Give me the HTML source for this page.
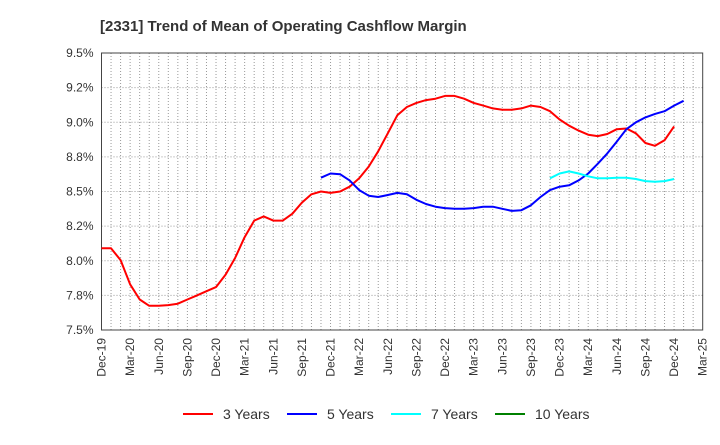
<!DOCTYPE html>
<html><head><meta charset="utf-8"><style>
body{margin:0;background:#fff;}
svg text{font-family:"Liberation Sans",sans-serif;}
</style></head><body>
<svg id="chart" width="720" height="440" xmlns="http://www.w3.org/2000/svg">
<text x="100" y="31" font-size="15" font-weight="bold" fill="#333">[2331]  Trend of Mean of Operating Cashflow Margin</text>
<g id="grid"></g><g id="axes"></g><g id="series"></g><g id="legend"></g>
</svg>
<script>
const xTickLabels=["Dec-19","Mar-20","Jun-20","Sep-20","Dec-20","Mar-21","Jun-21","Sep-21","Dec-21","Mar-22","Jun-22","Sep-22","Dec-22","Mar-23","Jun-23","Sep-23","Dec-23","Mar-24","Jun-24","Sep-24","Dec-24","Mar-25"];
const yTicks=[7.5,7.75,8.0,8.25,8.5,8.75,9.0,9.25,9.5];
const yTickLabels=["7.5%","7.8%","8.0%","8.2%","8.5%","8.8%","9.0%","9.2%","9.5%"];
const seriesNames=["3 Years","5 Years","7 Years","10 Years"];
const seriesColors=["#ff0000","#0000ff","#00ffff","#008000"];
// monthly values; start index = months after Dec-19
const red3Start=0;
const red3=[8.09,8.09,8.005,7.83,7.72,7.675,7.675,7.68,7.69,7.72,7.75,7.78,7.81,7.90,8.02,8.17,8.29,8.32,8.29,8.29,8.34,8.42,8.48,8.50,8.49,8.50,8.535,8.595,8.68,8.79,8.92,9.05,9.11,9.14,9.16,9.17,9.19,9.19,9.17,9.14,9.12,9.10,9.09,9.09,9.10,9.12,9.11,9.08,9.02,8.975,8.94,8.91,8.90,8.915,8.95,8.955,8.92,8.85,8.83,8.87,8.97];
const blue5Start=23;
const blue5=[8.60,8.63,8.625,8.58,8.51,8.47,8.46,8.475,8.49,8.48,8.44,8.41,8.39,8.38,8.375,8.375,8.38,8.39,8.39,8.375,8.36,8.365,8.40,8.46,8.51,8.535,8.545,8.58,8.63,8.70,8.775,8.86,8.95,9.00,9.035,9.06,9.08,9.12,9.155];
const cyan7Start=47;
const cyan7=[8.595,8.63,8.645,8.63,8.61,8.595,8.595,8.60,8.60,8.59,8.575,8.57,8.575,8.59];
const green10Start=0;
const green10=[];

const X0=101.5,X1=702.7,Y0=330,Y1=53,months=63;
const xs=m=>X0+(X1-X0)*m/months;
const ys=v=>Y0-(v-7.5)/(9.5-7.5)*(Y0-Y1);
const NS="http://www.w3.org/2000/svg";
function mk(tag,attrs,parent){const e=document.createElementNS(NS,tag);for(const k in attrs)e.setAttribute(k,attrs[k]);parent.appendChild(e);return e;}
const grid=document.getElementById('grid'),axes=document.getElementById('axes'),ser=document.getElementById('series'),leg=document.getElementById('legend');
for(let m=1;m<months;m++){
 const l=mk('line',{x1:xs(m),x2:xs(m),y1:Y1,y2:Y0,stroke:'#999','stroke-width':1,'stroke-dasharray':'1,2'},grid);
 
 
}
yTicks.forEach((v,i)=>{
 const l=mk('line',{x1:X0,x2:X1,y1:ys(v),y2:ys(v),stroke:'#999','stroke-width':1,'stroke-dasharray':'1,2'},grid);
 
 
 const t=mk('text',{x:X0-8,y:ys(v)+4,'font-size':12,'text-anchor':'end',fill:'#333'},axes);
 t.textContent=yTickLabels[i];
 
 
});
xTickLabels.forEach((s,i)=>{
 const x=xs(i*3);
 const t=mk('text',{x:x+4,y:338,'font-size':12,'text-anchor':'end',fill:'#333',transform:`rotate(-90 ${x+4} 338)`},axes);
 t.textContent=s;
 
 
});
const fr=mk('rect',{x:X0,y:Y1,width:X1-X0,height:Y0-Y1,fill:'none',stroke:'#444','stroke-width':1},axes);


function drawSeries(vals,start,color,name){
 if(!vals.length)return;
 const p=vals.map((v,i)=>xs(start+i).toFixed(1)+','+ys(v).toFixed(1)).join(' ');
 const pl=mk('polyline',{points:p,fill:'none',stroke:color,'stroke-width':2,'stroke-linejoin':'round'},ser);
 
 
}
drawSeries(red3,red3Start,seriesColors[0],'series-3-years');
drawSeries(blue5,blue5Start,seriesColors[1],'series-5-years');
drawSeries(cyan7,cyan7Start,seriesColors[2],'series-7-years');
drawSeries(green10,green10Start,seriesColors[3],'series-10-years');
const lx=[183,287,391,495];
seriesNames.forEach((n,i)=>{
 const g=mk('g',{},leg);
 
 
 mk('line',{x1:lx[i],x2:lx[i]+30,y1:414,y2:414,stroke:seriesColors[i],'stroke-width':2},g);
 const t=mk('text',{x:lx[i]+40,y:419,'font-size':14,fill:'#333'},g);
 t.textContent=n;
});
</script>
</body></html>
